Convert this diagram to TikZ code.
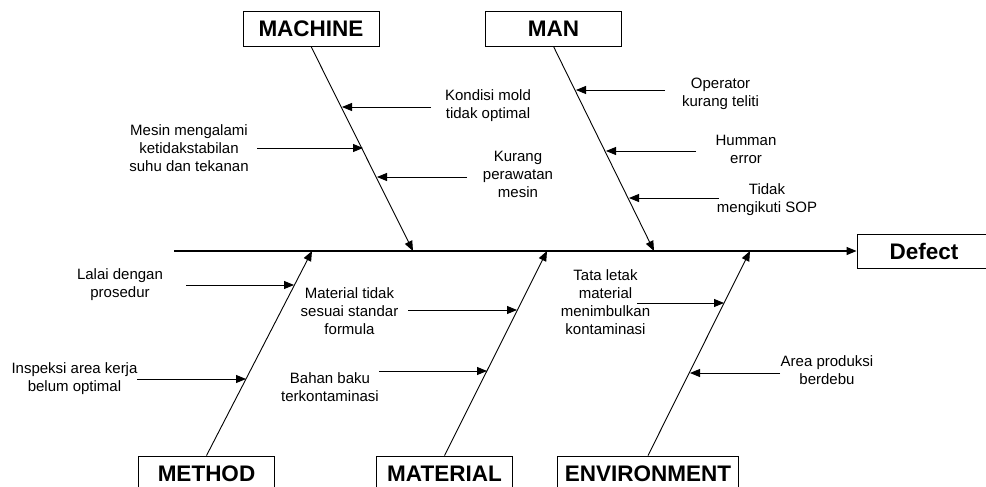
\documentclass[tikz,border=0pt]{standalone}
\usepackage{fontspec}
\setmainfont{Liberation Sans}
\usetikzlibrary{arrows.meta}
\begin{document}
\begin{tikzpicture}[x=1pt,y=-1pt,
  catbox/.style={draw=black, line width=0.9pt, fill=white, minimum width=136pt, minimum height=35pt, inner xsep=7.5pt, font=\fontsize{22.5}{26}\selectfont\bfseries},
  cause/.style={align=center, inner sep=0pt, font=\fontsize{15}{18}\selectfont},
  bone/.style={line width=0.9pt, -{Triangle[length=10pt,width=8pt]}},
  sub/.style={line width=0.9pt, -{Triangle[length=10pt,width=8pt]}}]
\clip (0,0) rectangle (986,487);
\fill[white] (0,0) rectangle (986,487);
% category boxes
\node[catbox] (machine) at (311,28.5) {MACHINE};
\node[catbox] (man) at (553.5,28.5) {MAN};
\node[catbox] (method) at (206.5,473.5) {METHOD};
\node[catbox] (material) at (444.5,473.5) {MATERIAL};
\node[catbox] (environment) at (648,473.5) {ENVIRONMENT};
\node[catbox, minimum width=134pt, minimum height=34pt] (defect) at (924,251) {Defect};
% spine
\coordinate (spinestart) at (174,251);
\draw[line width=1.2pt, -{Triangle[length=10pt,width=8pt]}] (spinestart) -- (defect.west);
% bone tips
\coordinate (tipmachine) at (413,251);
\coordinate (tipman) at (654,251);
\coordinate (tipmethod) at (312,251);
\coordinate (tipmaterial) at (547,251);
\coordinate (tipenv) at (750,251);
\draw[bone] (machine.south) -- (tipmachine);
\draw[bone] (man.south) -- (tipman);
\draw[bone] (method.north) -- (tipmethod);
\draw[bone] (material.north) -- (tipmaterial);
\draw[bone] (environment.north) -- (tipenv);
% cause texts
\node[cause] (c1) at (488,106) {Kondisi mold\\tidak optimal};
\node[cause] (c2) at (189,148) {Mesin mengalami\\ketidakstabilan\\suhu dan tekanan};
\node[cause] (c3) at (518,174) {Kurang\\perawatan\\mesin};
\node[cause] (c4) at (720.5,94) {Operator\\kurang teliti};
\node[cause] (c5) at (746,149) {Humman\\error};
\node[cause] (c6) at (767,200) {Tidak\\mengikuti SOP};
\node[cause] (c7) at (120,285) {Lalai dengan\\prosedur};
\node[cause] (c8) at (74.5,379) {Inspeksi area kerja\\belum optimal};
\node[cause] (c9) at (349.5,311) {Material tidak\\sesuai standar\\formula};
\node[cause] (c10) at (330,387.5) {Bahan baku\\terkontaminasi};
\node[cause] (c11) at (605.5,302) {Tata letak\\material\\menimbulkan\\kontaminasi};
\node[cause] (c12) at (827,370) {Area produksi\\berdebu};
% sub-arrow coordinates
\coordinate (s1) at (431,107);  \coordinate (e1) at (342,107);
\coordinate (s2) at (257,148);  \coordinate (e2) at (363,148);
\coordinate (s3) at (467,177);  \coordinate (e3) at (377,177);
\coordinate (s4) at (665,90);   \coordinate (e4) at (576,90);
\coordinate (s5) at (696,151);  \coordinate (e5) at (606,151);
\coordinate (s6) at (719,198);  \coordinate (e6) at (629,198);
\coordinate (s7) at (186,285);  \coordinate (e7) at (294,285);
\coordinate (s8) at (137,379);  \coordinate (e8) at (246,379);
\coordinate (s9) at (408,310);  \coordinate (e9) at (517,310);
\coordinate (s10) at (379,371); \coordinate (e10) at (487,371);
\coordinate (s11) at (637,303); \coordinate (e11) at (724,303);
\coordinate (s12) at (780,373); \coordinate (e12) at (690,373);
\foreach \i in {1,...,12} {\draw[sub] (s\i) -- (e\i);}
\end{tikzpicture}
\end{document}
